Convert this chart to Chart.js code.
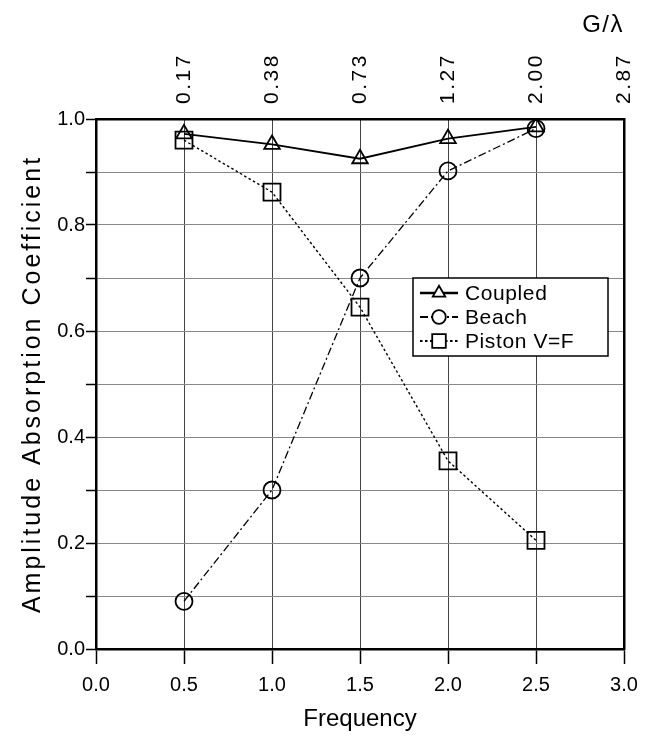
<!DOCTYPE html>
<html>
<head>
<meta charset="utf-8">
<script src="https://cdn.jsdelivr.net/npm/chart.js@4.4.0/dist/chart.umd.min.js"></script>
<style>
  body { margin: 0; background: #fff; }
  #chart { display: block; }
</style>
</head>
<body>
<canvas id="chart" width="652" height="737"></canvas>
<script>
// ! DATA
const frequency = [0.5, 1.0, 1.5, 2.0, 2.5];
const coupled = [0.972, 0.952, 0.925, 0.963, 0.985];
const beach = [0.09, 0.30, 0.70, 0.902, 0.982];
const piston = [0.96, 0.862, 0.645, 0.355, 0.205];
const gLambdaLabels = ["", "0.17", "0.38", "0.73", "1.27", "2.00", "2.87"];
const seriesNames = ["Coupled", "Beach", "Piston V=F"];

const FONT = "'Liberation Sans', Arial, Helvetica, sans-serif";
Chart.defaults.color = "#000";
Chart.defaults.font.family = FONT;

const toPoints = (ys) => frequency.map((x, i) => ({ x: x, y: ys[i] }));

// loose tracking like the scanned original, only for one part of a scale
function spaced(scale, method, spacing) {
  if (scale["_sp_" + method]) return;
  const orig = scale[method].bind(scale);
  scale[method] = (area) => {
    scale.ctx.save();
    scale.ctx.letterSpacing = spacing;
    orig(area);
    scale.ctx.restore();
  };
  scale["_sp_" + method] = true;
}

// ! LEGEND INSIDE THE PLOT BOX
const boxLegend = {
  id: "boxLegend",
  afterDatasetsDraw(chart) {
    const ctx = chart.ctx;
    const left = 413, top = 278, w = 195, h = 78;
    ctx.save();
    ctx.fillStyle = "#fff";
    ctx.fillRect(left, top, w, h);
    ctx.strokeStyle = "#000";
    ctx.lineWidth = 1.5;
    ctx.strokeRect(left, top, w, h);

    chart.data.datasets.forEach((ds, i) => {
      const y = top + 15 + i * 24;
      ctx.save();
      ctx.strokeStyle = "#000";
      ctx.lineWidth = ds.borderWidth + 0.8;
      ctx.setLineDash(ds.borderDash || []);
      ctx.beginPath();
      ctx.moveTo(left + 7, y);
      ctx.lineTo(left + 45, y);
      ctx.stroke();
      ctx.restore();

      ctx.save();
      ctx.strokeStyle = "#000";
      ctx.fillStyle = "#fff";
      ctx.lineWidth = 1.8;
      Chart.helpers.drawPoint(ctx, {
        pointStyle: ds.pointStyle,
        radius: ds.pointRadius * 0.8,
        rotation: 0,
        borderWidth: 1.8,
      }, left + 26, y);
      ctx.restore();

      ctx.fillStyle = "#000";
      ctx.font = "21px " + FONT;
      ctx.letterSpacing = "0.6px";
      ctx.textBaseline = "middle";
      ctx.textAlign = "left";
      ctx.fillText(ds.label, left + 52, y + 1);
    });
    ctx.restore();
  },
};

// ! CHART
const ctx = document.querySelector("#chart").getContext("2d");
new Chart(ctx, {
  type: "scatter",
  data: {
    datasets: [
      {
        label: seriesNames[0],
        data: toPoints(coupled),
        showLine: true,
        borderColor: "#000",
        borderWidth: 1.8,
        pointStyle: "triangle",
        pointRadius: 9,
        pointBorderWidth: 1.8,
        pointBackgroundColor: "rgba(0,0,0,0)",
        pointBorderColor: "#000",
      },
      {
        label: seriesNames[1],
        data: toPoints(beach),
        showLine: true,
        borderColor: "#000",
        borderWidth: 1.3,
        borderDash: [8, 3, 2, 3],
        pointStyle: "circle",
        pointRadius: 8.5,
        pointBorderWidth: 1.8,
        pointBackgroundColor: "rgba(0,0,0,0)",
        pointBorderColor: "#000",
      },
      {
        label: seriesNames[2],
        data: toPoints(piston),
        showLine: true,
        borderColor: "#000",
        borderWidth: 1.4,
        borderDash: [2.5, 2.5],
        pointStyle: "rect",
        pointRadius: 12,
        pointBorderWidth: 1.8,
        pointBackgroundColor: "rgba(0,0,0,0)",
        pointBorderColor: "#000",
      },
    ],
  },
  options: {
    responsive: false,
    animation: false,
    layout: { padding: 0 },
    plugins: {
      legend: { display: false },
      tooltip: { enabled: false },
    },
    scales: {
      x: {
        type: "linear",
        position: "bottom",
        min: 0,
        max: 3,
        ticks: {
          stepSize: 0.5,
          padding: 9,
          font: { size: 20 },
          callback: (v) => v.toFixed(1),
        },
        grid: {
          color: "#444",
          lineWidth: 1,
          tickLength: 15,
          tickColor: "#000",
          tickWidth: 1.5,
        },
        border: { color: "#000", width: 2.5 },
        title: {
          display: true,
          text: "Frequency",
          font: { size: 24 },
          padding: { top: 0, bottom: 3 },
        },
        afterFit: (scale) => { scale.height = 88; },
      },
      x2: {
        type: "linear",
        position: "top",
        min: 0,
        max: 3,
        ticks: {
          stepSize: 0.5,
          minRotation: 90,
          maxRotation: 90,
          padding: 15,
          labelOffset: 25,
          font: { size: 21 },
          callback: (v) => gLambdaLabels[Math.round(v / 0.5)],
        },
        grid: { display: false, drawTicks: false },
        border: { color: "#000", width: 2.5 },
        title: {
          display: true,
          text: "G/λ",
          align: "end",
          font: { size: 24 },
          padding: { top: 11, bottom: 0 },
        },
        afterFit: (scale) => {
          scale.height = 119;
          spaced(scale, "drawLabels", "2.5px");
          spaced(scale, "drawTitle", "1.5px");
        },
      },
      y: {
        type: "linear",
        position: "left",
        min: 0,
        max: 1,
        ticks: {
          stepSize: 0.1,
          padding: 1,
          font: { size: 20 },
          callback: (v) => (Math.round(v * 10) % 2 === 0 ? v.toFixed(1) : ""),
        },
        grid: {
          color: "#888",
          lineWidth: 1,
          tickLength: 10,
          tickColor: "#000",
          tickWidth: 1.5,
        },
        border: { color: "#000", width: 2.5 },
        title: {
          display: true,
          text: "Amplitude Absorption Coefficient",
          font: { size: 25 },
          padding: { top: 18, bottom: 0 },
        },
        afterFit: (scale) => {
          scale.width = 96;
          spaced(scale, "drawTitle", "3px");
        },
      },
      y2: {
        type: "linear",
        position: "right",
        min: 0,
        max: 1,
        ticks: { display: false },
        grid: { display: false, drawTicks: false },
        border: { color: "#000", width: 2.5 },
        afterFit: (scale) => { scale.width = 28; },
      },
    },
  },
  plugins: [boxLegend],
});
</script>
</body>
</html>
